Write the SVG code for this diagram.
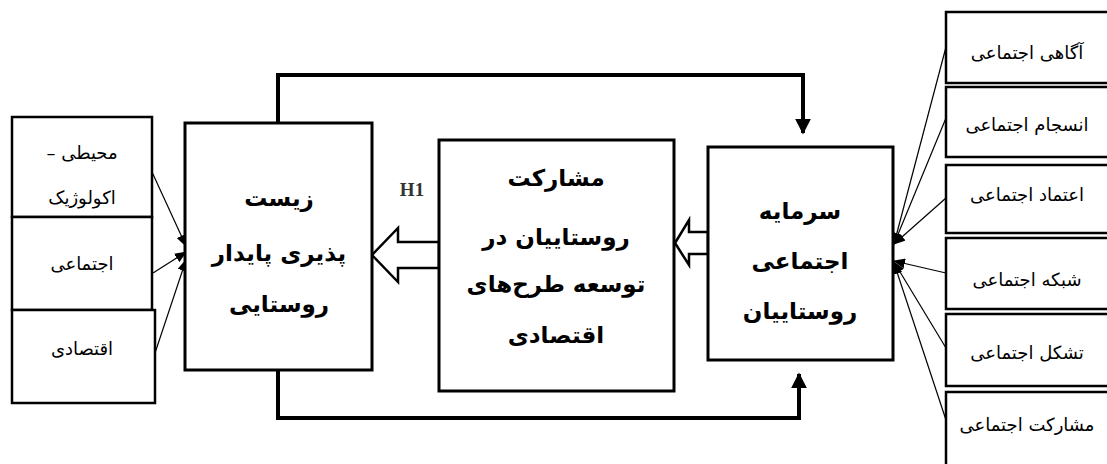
<svg xmlns="http://www.w3.org/2000/svg" width="1107" height="464" viewBox="0 0 1107 464">
<style>
.box{fill:#fff;stroke:#000;stroke-width:2.5}
.main{fill:#fff;stroke:#000;stroke-width:3}
.t{font-family:"DejaVu Sans",sans-serif;font-size:18px;fill:#000;text-anchor:middle;direction:rtl;unicode-bidi:embed}
.b{font-family:"DejaVu Sans",sans-serif;font-size:23px;font-weight:bold;fill:#000;text-anchor:middle;direction:rtl;unicode-bidi:embed}
.loop{fill:none;stroke:#000;stroke-width:4}
.thin{fill:none;stroke:#000;stroke-width:1.2}
.hollow{fill:#fff;stroke:#000;stroke-width:2.5;stroke-linejoin:miter}
</style>
<defs>
<marker id="ah" viewBox="0 0 12 10" refX="11" refY="5" markerWidth="12" markerHeight="10" markerUnits="userSpaceOnUse" orient="auto">
<path d="M0,0 L12,5 L0,10 Z" fill="#000"/>
</marker>
<marker id="ahb" viewBox="0 0 10 10" refX="9" refY="5" markerWidth="16" markerHeight="16" markerUnits="userSpaceOnUse" orient="auto">
<path d="M0,0 L10,5 L0,10 Z" fill="#000"/>
</marker>
</defs>
<g id="connectors">
<path class="loop" d="M278,123 V75 H803 V133" marker-end="url(#ahb)"/>
<path class="loop" d="M278,370 V418 H799 V374" marker-end="url(#ahb)"/>
<polygon class="hollow" points="439,242 398,242 398,228 372,255 398,282 398,268 439,268"/>
<polygon class="hollow" points="708,232 689,232 689,220 675,243 689,265 689,254 708,254"/>
<line class="thin" x1="152" y1="172" x2="186" y2="246" marker-end="url(#ah)"/>
<line class="thin" x1="153" y1="273" x2="186" y2="252" marker-end="url(#ah)"/>
<line class="thin" x1="155" y1="353" x2="186" y2="260" marker-end="url(#ah)"/>
<line class="thin" x1="946" y1="47" x2="894" y2="244" marker-end="url(#ah)"/>
<line class="thin" x1="946" y1="118" x2="894" y2="244" marker-end="url(#ah)"/>
<line class="thin" x1="946" y1="198" x2="894" y2="244" marker-end="url(#ah)"/>
<line class="thin" x1="946" y1="273" x2="894" y2="261" marker-end="url(#ah)"/>
<line class="thin" x1="946" y1="348" x2="894" y2="262" marker-end="url(#ah)"/>
<line class="thin" x1="946" y1="420" x2="894" y2="263" marker-end="url(#ah)"/>
</g>
<g id="h1"><text x="412" y="196" font-family="'Liberation Serif',serif" font-size="19" font-weight="bold" fill="#333" text-anchor="middle">H1</text></g>
<g id="env"><rect class="box" x="12" y="117" width="140" height="100"/>
<text class="t" x="82" y="159">محیطی –</text><text class="t" x="82" y="204">اکولوژیک</text></g>
<g id="soc"><rect class="box" x="12" y="217" width="140" height="93"/>
<text class="t" x="82" y="270">اجتماعی</text></g>
<g id="eco"><rect class="box" x="12" y="310" width="143" height="93"/>
<text class="t" x="82" y="355">اقتصادی</text></g>
<g id="sustain"><rect class="main" x="185" y="123" width="187" height="247"/>
<text class="b" x="279" y="206">زیست</text><text class="b" x="279" y="261">پذیری پایدار</text><text class="b" x="279" y="312">روستایی</text></g>
<g id="particip"><rect class="main" x="439" y="140" width="235" height="251"/>
<text class="b" x="556" y="186">مشارکت</text><text class="b" x="556" y="245">روستاییان در</text><text class="b" x="556" y="292">توسعه طرح‌های</text><text class="b" x="556" y="343">اقتصادی</text></g>
<g id="capital"><rect class="main" x="708" y="147" width="185" height="213"/>
<text class="b" x="800" y="219">سرمایه</text><text class="b" x="800" y="269">اجتماعی</text><text class="b" x="800" y="319">روستاییان</text></g>
<g id="r1"><rect class="box" x="946" y="12" width="200" height="71"/><text class="t" x="1027" y="59">آگاهی اجتماعی</text></g>
<g id="r2"><rect class="box" x="946" y="87" width="200" height="70"/><text class="t" x="1027" y="131" font-size="16">انسجام اجتماعی</text></g>
<g id="r3"><rect class="box" x="946" y="165" width="200" height="68"/><text class="t" x="1027" y="201">اعتماد اجتماعی</text></g>
<g id="r4"><rect class="box" x="946" y="238" width="200" height="71"/><text class="t" x="1027" y="286">شبکه اجتماعی</text></g>
<g id="r5"><rect class="box" x="946" y="314" width="200" height="72"/><text class="t" x="1027" y="359">تشکل اجتماعی</text></g>
<g id="r6"><rect class="box" x="946" y="392" width="200" height="90"/><text class="t" x="1027" y="431">مشارکت اجتماعی</text></g>
</svg>
